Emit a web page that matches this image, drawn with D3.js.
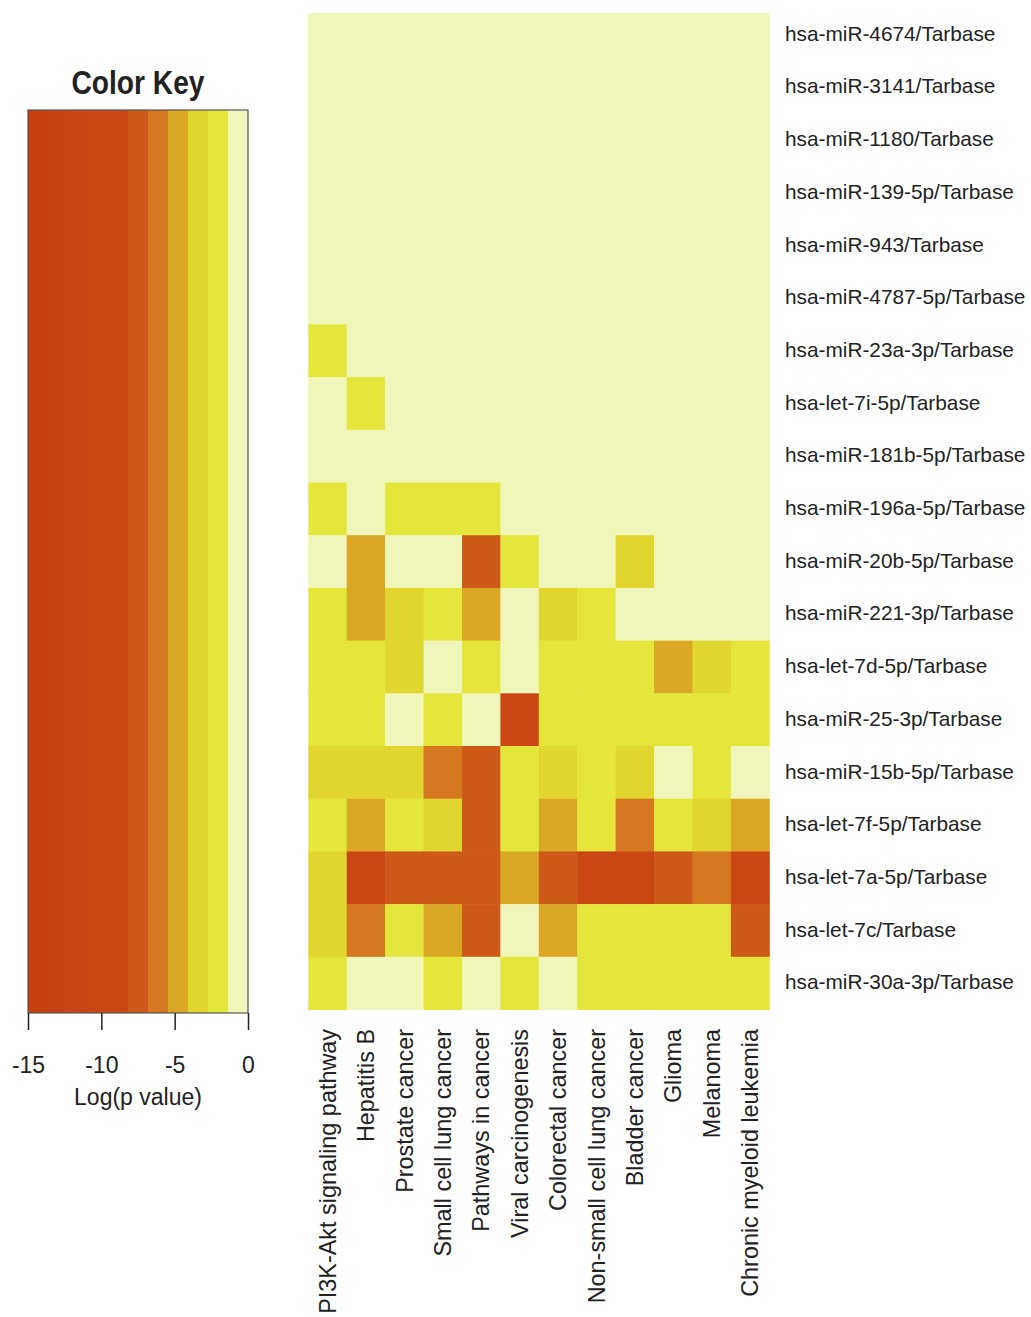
<!DOCTYPE html>
<html>
<head>
<meta charset="utf-8">
<script src="https://cdn.jsdelivr.net/npm/d3@7"></script>
<style>
  body { margin: 0; background: #fff; }
  text { font-family: "Liberation Sans", Arial, sans-serif; fill: #222; }
</style>
</head>
<body>
<div id="chart"></div>
<script>
const width = 1031;
const height = 1317;

// miRNA rows (top to bottom)
const rowLabels = [
  "hsa-miR-4674/Tarbase", "hsa-miR-3141/Tarbase", "hsa-miR-1180/Tarbase",
  "hsa-miR-139-5p/Tarbase", "hsa-miR-943/Tarbase", "hsa-miR-4787-5p/Tarbase",
  "hsa-miR-23a-3p/Tarbase", "hsa-let-7i-5p/Tarbase", "hsa-miR-181b-5p/Tarbase",
  "hsa-miR-196a-5p/Tarbase", "hsa-miR-20b-5p/Tarbase", "hsa-miR-221-3p/Tarbase",
  "hsa-let-7d-5p/Tarbase", "hsa-miR-25-3p/Tarbase", "hsa-miR-15b-5p/Tarbase",
  "hsa-let-7f-5p/Tarbase", "hsa-let-7a-5p/Tarbase", "hsa-let-7c/Tarbase",
  "hsa-miR-30a-3p/Tarbase"
];

// KEGG pathway columns (left to right)
const colLabels = [
  "PI3K-Akt signaling pathway", "Hepatitis B", "Prostate cancer",
  "Small cell lung cancer", "Pathways in cancer", "Viral carcinogenesis",
  "Colorectal cancer", "Non-small cell lung cancer", "Bladder cancer",
  "Glioma", "Melanoma", "Chronic myeloid leukemia"
];

// log(p value), one array per row
const logP = [
  [-0.4, -0.3, -0.5, -0.4, -0.3, -0.2, -0.4, -0.3, -0.5, -0.4, -0.3, -0.2],
  [-0.3, -0.4, -0.2, -0.5, -0.4, -0.3, -0.2, -0.4, -0.3, -0.5, -0.4, -0.3],
  [-0.5, -0.3, -0.4, -0.2, -0.3, -0.4, -0.5, -0.3, -0.2, -0.4, -0.3, -0.4],
  [-0.4, -0.5, -0.3, -0.4, -0.2, -0.3, -0.4, -0.5, -0.3, -0.2, -0.4, -0.3],
  [-0.3, -0.2, -0.4, -0.3, -0.5, -0.4, -0.3, -0.2, -0.4, -0.3, -0.5, -0.4],
  [-0.6, -0.4, -0.3, -0.5, -0.4, -0.2, -0.3, -0.4, -0.5, -0.3, -0.2, -0.4],
  [-2.0, -0.5, -0.4, -0.3, -0.5, -0.4, -0.3, -0.5, -0.4, -0.3, -0.2, -0.4],
  [-0.6, -2.1, -0.4, -0.5, -0.3, -0.4, -0.2, -0.3, -0.5, -0.4, -0.3, -0.2],
  [-0.7, -0.8, -0.5, -0.6, -0.7, -0.4, -0.5, -0.3, -0.4, -0.3, -0.5, -0.4],
  [-2.2, -0.6, -2.3, -2.0, -2.4, -0.5, -0.7, -0.4, -0.6, -0.3, -0.4, -0.5],
  [-0.8, -4.8, -0.7, -0.9, -7.6, -2.1, -0.6, -0.5, -3.3, -0.4, -0.3, -0.5],
  [-2.2, -4.7, -3.2, -2.1, -4.9, -0.8, -3.1, -2.3, -0.5, -0.4, -0.6, -0.3],
  [-2.0, -2.1, -3.3, -0.9, -2.2, -1.0, -2.6, -2.4, -2.3, -5.0, -3.5, -2.2],
  [-2.1, -2.3, -0.9, -2.2, -1.1, -9.5, -2.4, -2.3, -2.2, -2.4, -2.5, -2.6],
  [-3.4, -3.3, -3.5, -6.0, -7.6, -2.2, -3.3, -2.6, -3.4, -0.9, -2.3, -1.0],
  [-2.4, -4.9, -2.3, -3.2, -7.7, -2.2, -5.0, -2.4, -6.3, -2.3, -3.3, -4.8],
  [-3.3, -9.8, -7.8, -7.0, -7.6, -4.9, -7.3, -10.5, -10.2, -7.0, -6.2, -8.6],
  [-3.4, -6.3, -2.3, -5.0, -7.2, -0.8, -4.9, -2.4, -2.4, -2.5, -2.3, -7.9],
  [-2.3, -0.9, -0.8, -2.2, -0.9, -2.3, -1.0, -2.4, -2.3, -2.2, -2.4, -2.2]
];

const keyTicks = [-15, -10, -5, 0];
const keyColors = [
  "#c8400f", "#c94211", "#c94412", "#ca4613", "#cb4814",
  "#ce5a19", "#d5781f", "#dba826", "#e1d530", "#e5e63c", "#f0f6b9"
];

const svg = d3.select("#chart").append("svg")
  .attr("width", width)
  .attr("height", height);

// binned colour scale shared by key and heatmap
const breaks = d3.range(1, keyColors.length).map(k => -15 + k * 15 / keyColors.length);
const color = d3.scaleThreshold().domain(breaks).range(keyColors);

// ---- heatmap ----
const x = d3.scaleBand().domain(d3.range(colLabels.length)).range([308.3, 769.3]);
const y = d3.scaleBand().domain(d3.range(rowLabels.length)).range([8.2, 1009.5]);

// top row is cut off a little in the original
svg.append("clipPath").attr("id", "hm-clip")
  .append("rect").attr("x", 300).attr("y", 13).attr("width", 480).attr("height", 1000);

const cells = [];
logP.forEach((row, i) => row.forEach((v, j) => cells.push({ i, j, v })));

svg.append("g")
  .attr("clip-path", "url(#hm-clip)")
  .selectAll("rect")
  .data(cells)
  .enter().append("rect")
  .attr("x", d => x(d.j))
  .attr("y", d => y(d.i))
  .attr("width", x.bandwidth() + 0.5)
  .attr("height", y.bandwidth() + 0.5)
  .attr("fill", d => color(d.v));

svg.append("g")
  .selectAll("text")
  .data(rowLabels)
  .enter().append("text")
  .attr("x", 785)
  .attr("y", (d, i) => y(i) + y.bandwidth() / 2)
  .attr("dy", "0.3em")
  .style("font-size", "20.8px")
  .text(d => d);

svg.append("g")
  .selectAll("text")
  .data(colLabels)
  .enter().append("text")
  .attr("transform", (d, i) => `translate(${x(i) + x.bandwidth() / 2},1029) rotate(-90)`)
  .attr("text-anchor", "end")
  .attr("dy", "0.35em")
  .style("font-size", "23.4px")
  .text(d => d);

// ---- colour key ----
const kx = d3.scaleLinear().domain([-15, 0]).range([28, 248]);
const keyTop = 110, keyBottom = 1013;
const bins = [-15, ...breaks, 0];

svg.append("g")
  .selectAll("rect")
  .data(keyColors)
  .enter().append("rect")
  .attr("x", (d, i) => kx(bins[i]))
  .attr("y", keyTop)
  .attr("width", (d, i) => kx(bins[i + 1]) - kx(bins[i]) + 0.5)
  .attr("height", keyBottom - keyTop)
  .attr("fill", d => d);

svg.append("rect")
  .attr("x", kx(-15)).attr("y", keyTop)
  .attr("width", kx(0) - kx(-15)).attr("height", keyBottom - keyTop)
  .attr("fill", "none")
  .attr("stroke", "#555")
  .attr("stroke-width", 1.2);

const keyAxis = svg.append("g")
  .attr("transform", `translate(0,${keyBottom})`)
  .call(d3.axisBottom(kx).tickValues(keyTicks).tickSize(17).tickPadding(27).tickFormat(d => String(d)));
keyAxis.select(".domain").remove();
keyAxis.selectAll("line").attr("stroke", "#222").attr("stroke-width", 1.5);
keyAxis.selectAll("text")
  .style("font-size", "23px")
  .style("font-family", "'Liberation Sans', Arial, sans-serif")
  .attr("fill", "#222");

svg.append("text")
  .attr("x", 138)
  .attr("y", 1105)
  .attr("text-anchor", "middle")
  .style("font-size", "23px")
  .text("Log(p value)");

svg.append("text")
  .attr("x", 138)
  .attr("y", 94)
  .attr("text-anchor", "middle")
  .attr("textLength", 133)
  .attr("lengthAdjust", "spacingAndGlyphs")
  .style("font-size", "34px")
  .style("font-weight", "bold")
  .text("Color Key");
</script>
</body>
</html>
